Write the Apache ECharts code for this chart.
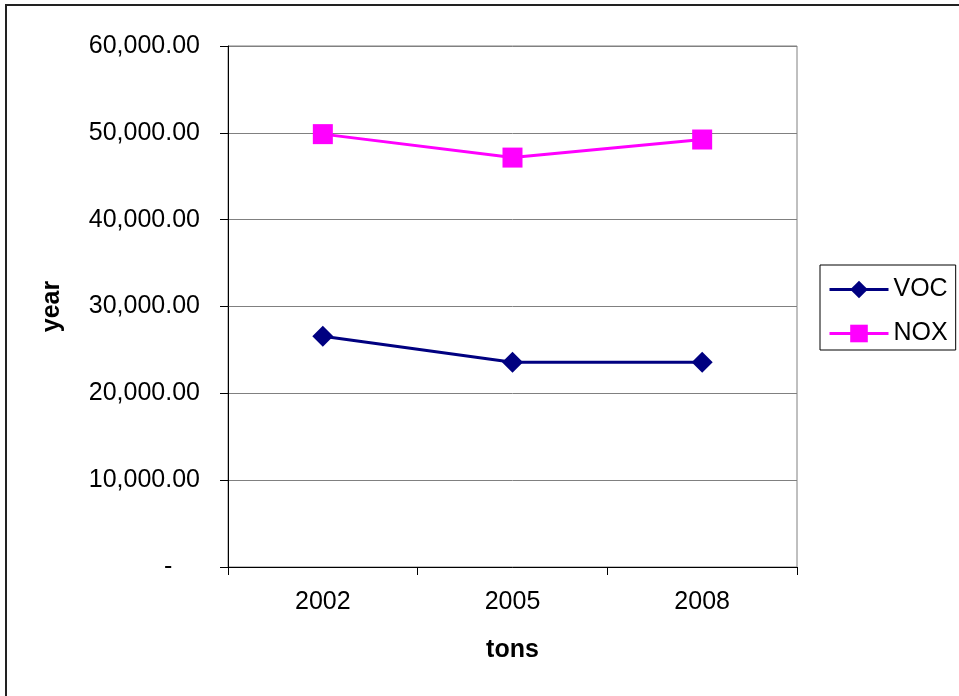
<!DOCTYPE html>
<html>
<head>
<meta charset="utf-8">
<script src="https://cdn.jsdelivr.net/npm/echarts@6/dist/echarts.min.js"></script>
<style>
html,body{margin:0;padding:0;background:#fff;}
#chart{width:959px;height:696px;}
</style>
</head>
<body>
<div id="chart"></div>
<script>
var categories = ['2002', '2005', '2008'];
var vocValues = [26580, 23580, 23580];
var noxValues = [49850, 47150, 49230];
var yTicks = [0, 10000, 20000, 30000, 40000, 50000, 60000];

var FONT = '"Liberation Sans", Arial, sans-serif';

function fmt(v) {
  if (v === 0) return '-    ';
  return v.toLocaleString('en-US', {minimumFractionDigits: 2, maximumFractionDigits: 2});
}

var chart = echarts.init(document.getElementById('chart'), null, {renderer: 'canvas'});
chart.setOption({
  animation: false,
  backgroundColor: '#ffffff',
  textStyle: {fontFamily: FONT},
  graphic: [{
    type: 'rect',
    shape: {x: 6, y: 5, width: 1000, height: 1000},
    style: {fill: 'none', stroke: '#222222', lineWidth: 2},
    silent: true
  }],
  grid: {
    left: 228, right: 162, top: 46, bottom: 129,
    show: true, borderColor: '#808080', borderWidth: 1, backgroundColor: 'transparent'
  },
  legend: {
    orient: 'vertical',
    left: 820, top: 265,
    padding: [12, 8, 4, 8],
    itemGap: 19,
    itemWidth: 59,
    itemHeight: 22,
    borderColor: '#000000',
    borderWidth: 1,
    lineStyle: {width: 3},
    textStyle: {fontFamily: FONT, fontSize: 25, color: '#000'},
    data: ['VOC', 'NOX']
  },
  xAxis: {
    type: 'category',
    data: categories,
    boundaryGap: true,
    name: 'tons',
    nameLocation: 'middle',
    nameGap: 71,
    nameTextStyle: {fontFamily: FONT, fontSize: 25, fontWeight: 'bold', color: '#000'},
    axisLine: {lineStyle: {color: '#000', width: 1}},
    axisTick: {show: true, length: 8, alignWithLabel: false, lineStyle: {color: '#000'}},
    axisLabel: {fontFamily: FONT, fontSize: 25, color: '#000', margin: 23},
    splitLine: {show: false}
  },
  yAxis: {
    type: 'value',
    min: 0, max: 60000, interval: 10000,
    name: 'year',
    nameLocation: 'middle',
    nameGap: 163,
    nameTextStyle: {fontFamily: FONT, fontSize: 25, fontWeight: 'bold', color: '#000'},
    axisLine: {show: true, lineStyle: {color: '#000', width: 1}},
    axisTick: {show: true, length: 8, lineStyle: {color: '#000'}},
    axisLabel: {fontFamily: FONT, fontSize: 25, color: '#000', margin: 28,
      formatter: function (v) { return fmt(v); },
      customValues: yTicks},
    splitLine: {show: true, lineStyle: {color: '#808080', width: 1}}
  },
  series: [{
    name: 'VOC',
    type: 'line',
    data: vocValues,
    symbol: 'diamond',
    symbolSize: 21,
    color: '#000080',
    lineStyle: {color: '#000080', width: 3},
    itemStyle: {color: '#000080'}
  }, {
    name: 'NOX',
    type: 'line',
    data: noxValues,
    symbol: 'rect',
    symbolSize: 20,
    color: '#FF00FF',
    lineStyle: {color: '#FF00FF', width: 3},
    itemStyle: {color: '#FF00FF'}
  }]
});
</script>
</body>
</html>
